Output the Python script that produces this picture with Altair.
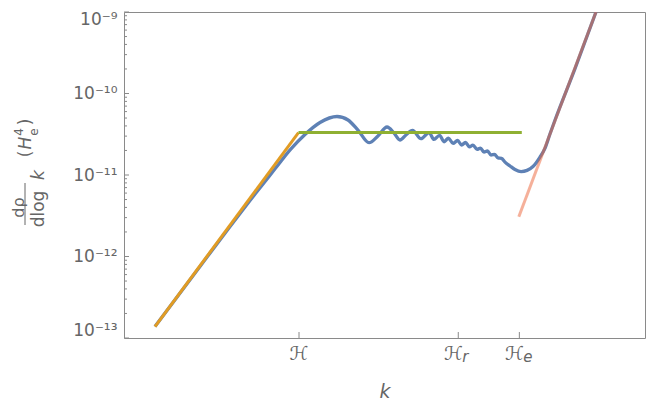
import math
import altair as alt
import pandas as pd

# ---- data (x = log k in arbitrary units, y = value) ----
blue_u = [0.177, 0.434, 0.606, 0.749, 0.863, 0.949, 1.034, 1.12, 1.217, 1.28,
          1.337, 1.4, 1.451, 1.503, 1.543, 1.577, 1.611, 1.649, 1.697, 1.743,
          1.771, 1.803, 1.829, 1.854, 1.88, 1.906, 1.929, 1.951, 1.974, 1.994,
          2.017, 2.037, 2.057, 2.077, 2.097, 2.117, 2.137, 2.157, 2.177, 2.206,
          2.234, 2.269, 2.303, 2.337, 2.377, 2.406, 2.434, 2.463, 2.577, 2.697]
blue_v = [1.38e-13, 7.53e-13, 2.33e-12, 5.85e-12, 1.19e-11, 2.03e-11, 3.14e-11, 4.41e-11, 5.22e-11, 4.73e-11,
          3.56e-11, 2.49e-11, 3.01e-11, 3.88e-11, 3.27e-11, 2.69e-11, 3.10e-11, 3.52e-11, 2.79e-11, 3.32e-11,
          2.73e-11, 3.06e-11, 2.56e-11, 2.84e-11, 2.44e-11, 2.65e-11, 2.33e-11, 2.51e-11, 2.21e-11, 2.33e-11,
          2.06e-11, 2.14e-11, 1.91e-11, 1.97e-11, 1.76e-11, 1.79e-11, 1.62e-11, 1.60e-11, 1.44e-11, 1.29e-11,
          1.17e-11, 1.10e-11, 1.14e-11, 1.27e-11, 1.66e-11, 2.14e-11, 3.18e-11, 4.73e-11, 2.02e-10, 1.0e-9]

orange_u = [0.177, 0.997]
orange_v = [1.38e-13, 3.32e-11]

green_u = [0.997, 2.273]
green_v = [3.32e-11, 3.32e-11]

salmon_u = [2.256, 2.697]
salmon_v = [3.08e-12, 1.0e-9]

x_tick_vals = [1.0, 1.91, 2.259]
x_tick_subs = ["", "r", "e"]

y_major = [1e-13, 1e-12, 1e-11, 1e-10, 1e-9]
y_major_labels = ["10\u207b\u00b9\u00b3", "10\u207b\u00b9\u00b2", "10\u207b\u00b9\u00b9",
                  "10\u207b\u00b9\u2070", "10\u207b\u2079"]
y_minor = [m * 10.0 ** e for e in range(-13, -9) for m in range(2, 10)]

X_DOMAIN = [0, 2.977]
Y_DOMAIN = [1e-13, 1e-9]

GRAY = "#666666"
FRAME = "#8a8a8a"
FONT = "DejaVu Sans"


def y_label_expr():
    s = "''"
    for v, lab in reversed(list(zip(y_major, y_major_labels))):
        s = f"abs(log(datum.value)/LN10 - ({math.log10(v):.3f})) < 0.01 ? '{lab}' : ({s})"
    return s


x_enc = alt.X("u:Q", scale=alt.Scale(domain=X_DOMAIN, nice=False, zero=False),
              axis=alt.Axis(values=x_tick_vals, labels=False, title="k",
                            titleFontStyle="italic", titleFontWeight="normal",
                            titleFontSize=19, titleFont=FONT, titleColor=GRAY,
                            titleY=59, titleBaseline="alphabetic"))
y_enc = alt.Y("v:Q", scale=alt.Scale(type="log", domain=Y_DOMAIN, nice=False),
              axis=alt.Axis(values=y_major, labelExpr=y_label_expr(), title=None,
                            labelPadding=7, labelFontSize=17,
                            labelFlush=True, labelFlushOffset=1))


def line(us, vs, color, width=3.0, opacity=1.0, interp="linear"):
    df = pd.DataFrame({"u": us, "v": vs})
    return alt.Chart(df).mark_line(color=color, strokeWidth=width, opacity=opacity,
                                   interpolate=interp, clip=True).encode(x=x_enc, y=y_enc)


blue = line(blue_u, blue_v, "#5E81B5", 3.3, interp="monotone")
orange = line(orange_u, orange_v, "#E19C24", 3.0)
green = line(green_u, green_v, "#8FB032", 3.0)
salmon = line(salmon_u, salmon_v, "#EB6235", 3.0, opacity=0.5)

# inward ticks
ymaj_ticks = alt.Chart(pd.DataFrame({"v": y_major})).mark_rule(color=FRAME, strokeWidth=1).encode(
    y=y_enc, x=alt.value(0), x2=alt.value(5))
ymin_ticks = alt.Chart(pd.DataFrame({"v": y_minor})).mark_rule(color=FRAME, strokeWidth=1).encode(
    y=y_enc, x=alt.value(0), x2=alt.value(3))
x_ticks = alt.Chart(pd.DataFrame({"u": x_tick_vals})).mark_rule(color=FRAME, strokeWidth=1).encode(
    x=x_enc, y=alt.value(326), y2=alt.value(320))

# x tick labels: script H with optional subscript
xlab_df = pd.DataFrame({"u": x_tick_vals, "sub": x_tick_subs})
xlab_plain = alt.Chart(xlab_df).transform_filter("datum.sub == ''").mark_text(
    text="\u210b", font=FONT, fontSize=19, color=GRAY, align="center", baseline="alphabetic"
).encode(x=x_enc, y=alt.value(348))
xlab_main = alt.Chart(xlab_df).transform_filter("datum.sub != ''").mark_text(
    text="\u210b", font=FONT, fontSize=19, color=GRAY, align="center", baseline="alphabetic", dx=-5
).encode(x=x_enc, y=alt.value(348))
xlab_sub = alt.Chart(xlab_df).transform_filter("datum.sub != ''").mark_text(
    font=FONT, fontSize=15, color=GRAY, align="left", baseline="alphabetic", dx=4, fontStyle="italic"
).encode(x=x_enc, y=alt.value(350), text="sub:N")

one = pd.DataFrame({"a": [0]})


def txt(t, x, y, size=17, style="normal"):
    return alt.Chart(one).mark_text(text=t, angle=270, font=FONT, fontSize=size, fontStyle=style,
                                    color=GRAY, align="center", baseline="middle").encode(
        x=alt.value(x), y=alt.value(y))


title_parts = [
    txt("d\u03c1", -105, 195.5, 16),
    txt("dlog", -85, 197, 17),
    txt("k", -85, 163, 17, "italic"),
    txt("(", -98, 142, 17),
    txt("H", -98, 131, 17, "italic"),
    txt("4", -105, 120, 12),
    txt("e", -90, 120, 12),
    txt(")", -98, 110, 17),
]
bar = alt.Chart(one).mark_rule(color=GRAY, strokeWidth=1).encode(
    x=alt.value(-99), y=alt.value(171), y2=alt.value(213))

chart = alt.layer(ymin_ticks, ymaj_ticks, x_ticks, blue, orange, green, salmon,
                  xlab_plain, xlab_main, xlab_sub, bar, *title_parts).properties(
    width=521, height=326,
    autosize=alt.AutoSizeParams(type="none"),
    padding={"left": 116, "top": 4, "right": 1, "bottom": 65},
).configure_view(stroke=FRAME, strokeWidth=1).configure_axis(
    domain=False, ticks=False, grid=False, labelFont=FONT, labelColor=GRAY, tickSize=0
)

chart.save("out.html", embed_options={"renderer": "svg", "actions": False})
